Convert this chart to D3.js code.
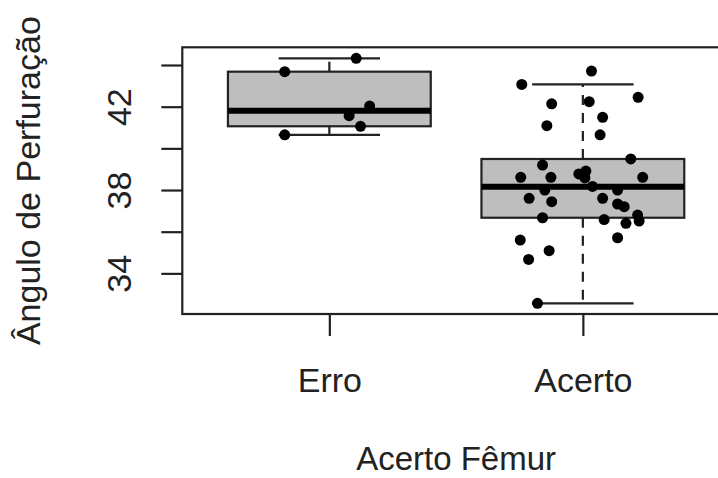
<!DOCTYPE html>
<html>
<head>
<meta charset="utf-8">
<script src="https://cdn.jsdelivr.net/npm/d3@7"></script>
<style>
  body { margin: 0; background: #fff; }
  svg { display: block; font-family: "Liberation Sans", Arial, sans-serif; }
</style>
</head>
<body>
<svg id="chart" width="718" height="478"></svg>
<script>
// categories and the raw points (values + horizontal jitter in category units)
const categories = ['Erro', 'Acerto'];

const erroValues = [44.32, 43.68, 42.03, 41.57, 41.06, 40.65];
const erroJitter = [0.106, -0.176, 0.159, 0.078, 0.123, -0.176];

const acertoValues = [
  43.71, 43.07, 42.45, 42.24, 42.14, 41.49, 41.09, 40.65, 39.49, 39.20,
  38.61, 38.61, 38.77, 38.91, 38.58, 38.61, 38.17, 38.00, 38.00, 37.60,
  37.44, 37.60, 37.33, 37.20, 36.67, 36.58, 36.80, 36.51, 36.40, 35.71,
  35.60, 35.09, 34.67, 32.56
];
const acertoJitter = [
  0.034, -0.241, 0.218, 0.025, -0.123, 0.078, -0.142, 0.068, 0.189, -0.159,
  -0.245, -0.126, -0.016, 0.012, 0.008, 0.236, 0.038, -0.150, 0.137, -0.212,
  -0.123, 0.078, 0.137, 0.163, -0.159, 0.084, 0.216, 0.222, 0.170, 0.137,
  -0.247, -0.133, -0.214, -0.179
];

// box statistics per category (Erro, Acerto)
const whiskerLow = [40.65, 32.56];
const hingeLow = [41.06, 36.67];
const medians = [41.81, 38.16];
const hingeHigh = [43.68, 39.49];
const whiskerHigh = [44.32, 43.07];

const yTicks = [34, 36, 38, 40, 42, 44];
const yLabels = [34, 38, 42];

const plot = {left: 182.3, right: 729.9, top: 47.3, bottom: 314};
const ink = '#222';

const svg = d3.select('#chart');

const x = d3.scaleLinear().domain([0.42, 2.58]).range([plot.left, plot.right]);
const y = d3.scaleLinear().domain([32.05, 44.85]).range([plot.bottom, plot.top]);

const boxes = categories.map((name, i) => ({
  name, pos: i + 1,
  lo: whiskerLow[i], q1: hingeLow[i], med: medians[i], q3: hingeHigh[i], hi: whiskerHigh[i]
}));

const points = [
  ...erroValues.map((v, i) => ({pos: 1 + erroJitter[i], v})),
  ...acertoValues.map((v, i) => ({pos: 2 + acertoJitter[i], v}))
];

const boxHalf = 0.4, capHalf = 0.2;

const g = svg.append('g');

// whiskers (dashed)
g.selectAll('.whisker').data(boxes.flatMap(b => [[b, b.q3, b.hi], [b, b.q1, b.lo]]))
  .join('line')
  .attr('x1', d => x(d[0].pos)).attr('x2', d => x(d[0].pos))
  .attr('y1', d => y(d[1])).attr('y2', d => y(d[2]))
  .attr('stroke', ink).attr('stroke-width', 2.2)
  .attr('stroke-dasharray', '10 8');

// staples
g.selectAll('.staple').data(boxes.flatMap(b => [[b, b.hi], [b, b.lo]]))
  .join('line')
  .attr('x1', d => x(d[0].pos - capHalf)).attr('x2', d => x(d[0].pos + capHalf))
  .attr('y1', d => y(d[1])).attr('y2', d => y(d[1]))
  .attr('stroke', ink).attr('stroke-width', 2.2);

// boxes
g.selectAll('.box').data(boxes)
  .join('rect')
  .attr('x', d => x(d.pos - boxHalf))
  .attr('width', d => x(d.pos + boxHalf) - x(d.pos - boxHalf))
  .attr('y', d => y(d.q3))
  .attr('height', d => y(d.q1) - y(d.q3))
  .attr('fill', '#bebebe')
  .attr('stroke', ink).attr('stroke-width', 2.2);

// medians
g.selectAll('.median').data(boxes)
  .join('line')
  .attr('x1', d => x(d.pos - boxHalf)).attr('x2', d => x(d.pos + boxHalf))
  .attr('y1', d => y(d.med)).attr('y2', d => y(d.med))
  .attr('stroke', '#000').attr('stroke-width', 6);

// jittered points
g.selectAll('.pt').data(points)
  .join('circle')
  .attr('cx', d => x(d.pos))
  .attr('cy', d => y(d.v))
  .attr('r', 5.5)
  .attr('fill', '#000');

// frame
svg.append('rect')
  .attr('x', plot.left).attr('y', plot.top)
  .attr('width', plot.right - plot.left).attr('height', plot.bottom - plot.top)
  .attr('fill', 'none').attr('stroke', ink).attr('stroke-width', 2.2);

// y axis
const yAxis = svg.append('g')
  .attr('transform', `translate(${plot.left},0)`)
  .call(d3.axisLeft(y).tickValues(yTicks).tickSize(21)
    .tickFormat(d => yLabels.includes(d) ? d : ''));
yAxis.select('.domain').remove();
yAxis.selectAll('line').attr('stroke', ink).attr('stroke-width', 2.2);
yAxis.selectAll('text')
  .attr('x', null).attr('dy', null)
  .attr('transform', 'translate(-51,0) rotate(-90)')
  .attr('text-anchor', 'middle')
  .attr('fill', ink)
  .style('font-size', '34px')
  .style('font-family', '"Liberation Sans", Arial, sans-serif');

// x axis
const xAxis = svg.append('g')
  .attr('transform', `translate(0,${plot.bottom})`)
  .call(d3.axisBottom(x).tickValues([1, 2]).tickSize(22)
    .tickFormat(d => categories[d - 1]));
xAxis.select('.domain').remove();
xAxis.selectAll('line').attr('stroke', ink).attr('stroke-width', 2.2);
xAxis.selectAll('text')
  .attr('y', 78).attr('dy', 0)
  .attr('fill', ink)
  .style('font-size', '34px')
  .style('font-family', '"Liberation Sans", Arial, sans-serif');

// axis titles
svg.append('text')
  .attr('x', (plot.left + plot.right) / 2)
  .attr('y', 470)
  .attr('text-anchor', 'middle')
  .attr('fill', ink)
  .style('font-size', '33px')
  .text('Acerto Fêmur');

svg.append('text')
  .attr('transform', `translate(40,${(plot.top + plot.bottom) / 2}) rotate(-90)`)
  .attr('text-anchor', 'middle')
  .attr('fill', ink)
  .style('font-size', '34px')
  .text('Ângulo de Perfuração');
</script>
</body>
</html>
